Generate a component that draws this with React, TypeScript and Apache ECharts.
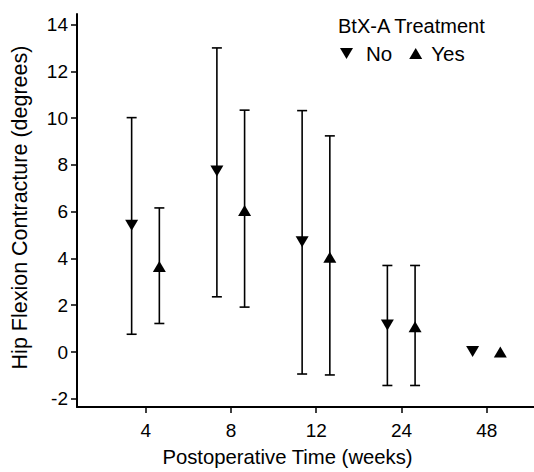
import React, { useEffect, useRef } from "react";
import * as echarts from "echarts";

const weeks = ["4", "8", "12", "24", "48"];
const noMean = [5.42, 7.74, 4.71, 1.16, 0.02];
const noLow = [0.76, 2.36, -0.94, -1.43, 0.02];
const noHigh = [10.02, 13.0, 10.32, 3.7, 0.02];
const yesMean = [3.66, 6.05, 4.05, 1.08, 0.0];
const yesLow = [1.22, 1.92, -0.98, -1.43, 0.0];
const yesHigh = [6.16, 10.34, 9.24, 3.7, 0.0];
const yTicks = [-2, 0, 2, 4, 6, 8, 10, 12, 14];

const OFFSET_NO = -0.165;
const OFFSET_YES = 0.16;

export default function App() {
  const ref = useRef<HTMLDivElement>(null);
  useEffect(() => {
    if (!ref.current) return;
    const chart = echarts.init(ref.current, null, { renderer: "svg" });
    const xPos = weeks.map((_, i) => i + 1);
    const noPts = xPos.map((x, i) => [x + OFFSET_NO, noMean[i]]);
    const yesPts = xPos.map((x, i) => [x + OFFSET_YES, yesMean[i]]);
    const noErr = xPos.map((x, i) => [x + OFFSET_NO, noLow[i], noHigh[i]]);
    const yesErr = xPos.map((x, i) => [x + OFFSET_YES, yesLow[i], yesHigh[i]]);
    const font = "Liberation Sans, Arial, Helvetica, sans-serif";

    const renderErr = (params: any, api: any) => {
      const x = api.value(0);
      const lo = api.value(1);
      const hi = api.value(2);
      if (hi - lo < 1e-9) return null;
      const a = api.coord([x, lo]);
      const b = api.coord([x, hi]);
      const cap = 5;
      const style = { stroke: "#000", lineWidth: 1.6 };
      return {
        type: "group",
        children: [
          { type: "line", shape: { x1: a[0], y1: a[1], x2: b[0], y2: b[1] }, style },
          { type: "line", shape: { x1: a[0] - cap, y1: a[1], x2: a[0] + cap, y2: a[1] }, style },
          { type: "line", shape: { x1: b[0] - cap, y1: b[1], x2: b[0] + cap, y2: b[1] }, style },
        ],
      };
    };

    chart.setOption({
      animation: false,
      backgroundColor: "#fff",
      title: {
        text: "BtX-A Treatment",
        left: 333,
        top: 11,
        textStyle: { fontSize: 20, fontWeight: "normal", color: "#000", fontFamily: font },
      },
      legend: {
        left: 335,
        top: 38,
        itemWidth: 13,
        itemHeight: 11,
        itemGap: 17,
        data: [
          {
            name: "No",
            icon: "path://M0,0L13,0L6.5,11Z",
            textStyle: { fontSize: 20.5, color: "#000", fontFamily: font, padding: [0, 0, 0, 8] },
          },
          {
            name: "Yes",
            icon: "path://M6.5,0L13,11L0,11Z",
            textStyle: { fontSize: 20.5, color: "#000", fontFamily: font, padding: [0, 0, 0, 4] },
          },
        ],
        textStyle: { fontSize: 20.5, color: "#000", fontFamily: font },
      },
      grid: { left: 77, right: 0, top: 14, bottom: 59.3, containLabel: false },
      xAxis: {
        type: "value",
        min: 0.194,
        max: 5.555,
        name: "Postoperative Time (weeks)",
        nameLocation: "middle",
        nameGap: 40,
        nameTextStyle: { fontSize: 20.3, color: "#000", fontFamily: font, padding: [0, 36, 0, 0] },
        axisLine: { show: true, onZero: false, lineStyle: { color: "#000", width: 2 } },
        axisTick: { show: true, customValues: xPos, length: 6, lineStyle: { color: "#000", width: 1.5 } },
        axisLabel: {
          customValues: xPos,
          formatter: (v: number) => weeks[Math.round(v) - 1] ?? "",
          fontSize: 19,
          color: "#000",
          fontFamily: font,
          margin: 14,
        },
        splitLine: { show: false },
      },
      yAxis: {
        type: "value",
        min: -2.35,
        max: 14.45,
        name: "Hip Flexion Contracture (degrees)",
        nameLocation: "middle",
        nameGap: 46,
        nameTextStyle: { fontSize: 21.5, color: "#000", fontFamily: font, padding: [0, 0, 0, 6] },
        axisLine: { show: true, onZero: false, lineStyle: { color: "#000", width: 2 } },
        axisTick: { show: true, customValues: yTicks, length: 6, lineStyle: { color: "#000", width: 1.5 } },
        axisLabel: { customValues: yTicks, fontSize: 19, color: "#000", fontFamily: font, margin: 9 },
        splitLine: { show: false },
      },
      series: [
        {
          name: "NoErr",
          type: "custom",
          renderItem: renderErr,
          encode: { x: 0, y: [1, 2] },
          data: noErr,
          z: 1,
          silent: true,
        },
        {
          name: "YesErr",
          type: "custom",
          renderItem: renderErr,
          encode: { x: 0, y: [1, 2] },
          data: yesErr,
          z: 1,
          silent: true,
        },
        {
          name: "No",
          type: "scatter",
          symbol: "triangle",
          symbolRotate: 180,
          symbolSize: [13, 11],
          itemStyle: { color: "#000", opacity: 1 },
          data: noPts,
          z: 5,
        },
        {
          name: "Yes",
          type: "scatter",
          symbol: "triangle",
          symbolSize: [13, 11],
          itemStyle: { color: "#000", opacity: 1 },
          data: yesPts,
          z: 5,
        },
      ],
    });
    return () => chart.dispose();
  }, []);
  return (
    <div
      ref={ref}
      style={{ position: "absolute", left: 0, top: 0, width: 534, height: 472 }}
    />
  );
}
